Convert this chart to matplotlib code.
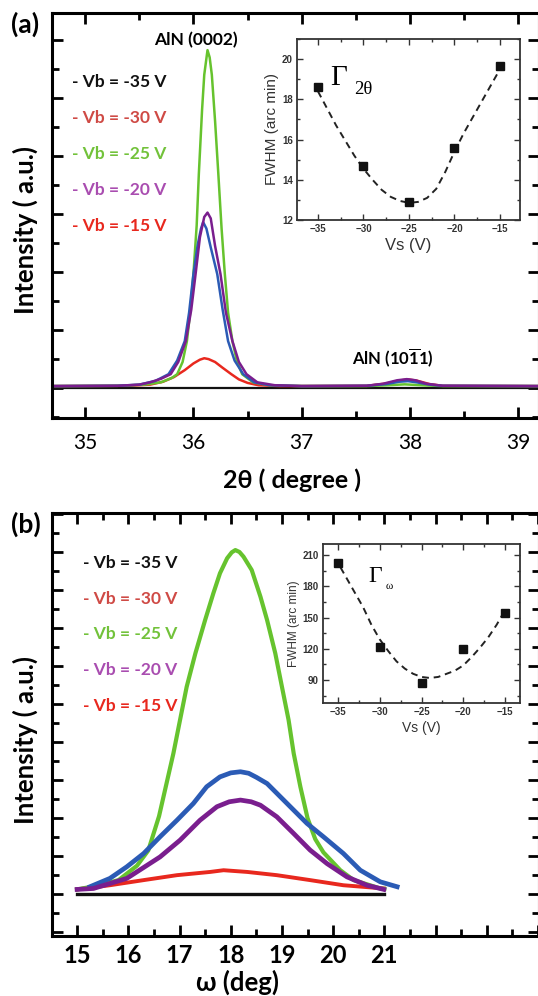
import matplotlib
matplotlib.use("Agg")
import matplotlib.pyplot as plt
from matplotlib.ticker import MultipleLocator

plt.rcParams['font.family'] = ['Lato', 'DejaVu Sans']
plt.rcParams['mathtext.fontset'] = 'custom'
plt.rcParams['mathtext.rm'] = 'Lato:bold'
plt.rcParams['mathtext.bf'] = 'Lato:bold'

# ---- panel (a): 2theta scans (intensity in arbitrary units) ----
black_a_x = [34.7, 39.2]
black_a_y = [0.0, 0.0]
green_a_x = [34.7, 35.3, 35.55, 35.70, 35.80, 35.85, 35.90, 35.94, 35.97, 36.00, 36.03, 36.05,
             36.08, 36.10, 36.13, 36.15, 36.17, 36.20, 36.23, 36.26, 36.29, 36.32, 36.36, 36.40,
             36.45, 36.55, 36.70, 37.0, 37.6, 37.8, 37.95, 38.1, 38.3, 39.2]
green_a_y = [0.07, 0.08, 0.12, 0.2, 0.35, 0.48, 0.9, 1.62, 2.6, 3.93, 5.6, 7.38,
             9.6, 10.8, 11.65, 11.4, 10.8, 9.2, 7.38, 5.5, 3.93, 2.6, 1.62, 0.95,
             0.48, 0.2, 0.1, 0.07, 0.07, 0.1, 0.13, 0.1, 0.07, 0.07]
purple_a_x = [34.7, 35.3, 35.5, 35.6, 35.7, 35.79, 35.86, 35.93, 35.98, 36.02, 36.06, 36.10,
              36.13, 36.16, 36.20, 36.25, 36.30, 36.36, 36.42, 36.49, 36.59, 36.75, 37.0,
              37.6, 37.75, 37.88, 37.97, 38.05, 38.15, 38.3, 39.2]
purple_a_y = [0.07, 0.08, 0.12, 0.2, 0.32, 0.48, 0.9, 1.62, 2.7, 3.93, 5.2, 5.9,
              6.05, 5.85, 4.9, 3.93, 2.6, 1.62, 0.9, 0.48, 0.2, 0.1, 0.07,
              0.08, 0.15, 0.27, 0.31, 0.27, 0.15, 0.08, 0.07]
blue_a_x = [34.7, 35.3, 35.5, 35.65, 35.77, 35.85, 35.92, 35.96, 36.0, 36.04, 36.07, 36.09,
            36.12, 36.16, 36.22, 36.27, 36.32, 36.38, 36.46, 36.56, 36.7, 37.0,
            37.6, 37.78, 37.9, 37.98, 38.06, 38.18, 38.3, 39.2]
blue_a_y = [0.07, 0.08, 0.12, 0.25, 0.48, 0.95, 1.62, 2.6, 3.93, 4.95, 5.5, 5.72,
            5.5, 4.85, 3.93, 2.7, 1.62, 0.95, 0.48, 0.2, 0.1, 0.07,
            0.08, 0.14, 0.22, 0.24, 0.2, 0.12, 0.08, 0.07]
red_a_x = [34.7, 35.4, 35.6, 35.72, 35.82, 35.92, 36.0, 36.06, 36.10, 36.14, 36.2, 36.27,
           36.35, 36.42, 36.5, 36.6, 36.8, 37.6, 37.78, 37.9, 37.98, 38.06, 38.18, 38.3, 39.2]
red_a_y = [0.07, 0.08, 0.12, 0.22, 0.38, 0.62, 0.85, 0.98, 1.03, 1.0, 0.9, 0.7,
           0.48, 0.3, 0.18, 0.1, 0.07, 0.08, 0.16, 0.26, 0.3, 0.26, 0.14, 0.08, 0.07]

# inset (a): FWHM of 2theta peak
vs_a = [-35, -30, -25, -20, -15]
fwhm_a = [18.6, 14.7, 12.9, 15.6, 19.65]
fit_a_x = [-35, -33, -31, -30, -29, -28, -27, -26, -25, -24, -23, -22, -21, -20, -19, -18, -17, -16, -15]
fit_a_y = [18.4, 16.7, 15.2, 14.55, 14.0, 13.5, 13.15, 12.95, 12.85, 12.9, 13.1, 13.55, 14.4, 15.4,
           16.3, 17.1, 17.9, 18.7, 19.5]

# ---- panel (b): omega rocking curves ----
black_b_x = [15.0, 21.0]
black_b_y = [0.0, 0.0]
green_b_x = [15.0, 15.4, 15.81, 16.17, 16.39, 16.6, 16.88, 17.01, 17.14, 17.31,
             17.50, 17.66, 17.79, 17.93, 18.02, 18.09, 18.17, 18.25, 18.41, 18.58, 18.71, 18.87,
             19.0, 19.13, 19.23, 19.36, 19.5, 19.65, 19.81, 20.14, 20.40, 20.92, 21.0]
green_b_y = [0.25, 0.45, 0.74, 1.5, 2.3, 4.1, 7.40, 9.16, 10.91, 12.67,
             14.42, 15.82, 16.88, 17.67, 17.98, 18.1, 18.0, 17.75, 17.05, 15.65, 14.42, 12.67,
             10.91, 9.16, 7.40, 5.65, 4.0, 2.9, 2.2, 1.26, 0.74, 0.3, 0.28]
blue_b_x = [15.25, 15.64, 15.97, 16.30, 16.62, 16.95, 17.27, 17.53, 17.79, 18.0, 18.19, 18.35,
            18.5, 18.71, 18.97, 19.23, 19.49, 19.81, 20.20, 20.53, 20.92, 21.25]
blue_b_y = [0.39, 0.83, 1.44, 2.14, 3.02, 3.89, 4.77, 5.65, 6.17, 6.38, 6.44, 6.36,
            6.15, 5.82, 5.12, 4.42, 3.72, 3.02, 2.14, 1.26, 0.65, 0.39]
purple_b_x = [15.0, 15.32, 15.97, 16.62, 17.01, 17.40, 17.73, 17.97, 18.19, 18.4, 18.58, 18.90,
              19.23, 19.55, 19.88, 20.27, 20.66, 20.99]
purple_b_y = [0.25, 0.3, 0.83, 1.96, 2.84, 3.89, 4.6, 4.86, 4.95, 4.86, 4.68, 4.07,
              3.19, 2.32, 1.61, 0.91, 0.47, 0.25]
red_b_x = [15.0, 15.64, 16.30, 16.95, 17.60, 17.86, 18.32, 18.90, 19.55, 20.20, 20.99]
red_b_y = [0.25, 0.47, 0.74, 1.0, 1.17, 1.26, 1.17, 1.0, 0.74, 0.47, 0.3]

# inset (b): FWHM of omega scan
vs_b = [-35, -30, -25, -20, -15]
fwhm_b = [202, 122, 87, 120, 154]
fit_b_x = [-34.7, -33, -32, -31, -30, -29, -28, -27, -26, -25, -24, -23, -22, -21, -20, -19, -18, -17, -16, -15]
fit_b_y = [198, 174, 160, 143, 129, 118, 108, 101, 96, 93, 92, 93, 96, 99, 104, 112, 121, 131, 143, 157]

legend_labels = ['- Vb = -35 V', '- Vb = -30 V', '- Vb = -25 V', '- Vb = -20 V', '- Vb = -15 V']
legend_colors = ['#111111', '#CF4A45', '#72C23A', '#A94DB0', '#E8281E']

c_black = '#111111'
c_green = '#66C32E'
c_purple = '#7A1E8E'
c_blue = '#2B5BB5'
c_red = '#E8281E'

W, H = 538, 996


def fx(x):
    return x / W


def fy(y):
    return 1 - y / H


def box(l, t, r, b):
    return [fx(l), fy(b), (r - l) / W, (b - t) / H]


def style_main(ax):
    for s in ax.spines.values():
        s.set_linewidth(2.2)
    ax.tick_params(which='both', direction='in', top=True, right=True, width=2, colors='black')
    ax.tick_params(which='major', length=8)
    ax.tick_params(which='minor', length=5)
    ax.tick_params(labelleft=False)


def style_inset(ax):
    for s in ax.spines.values():
        s.set_linewidth(1.3)
        s.set_color('#333333')
    ax.tick_params(which='both', direction='in', top=True, right=True, width=1, colors='#333333')
    ax.tick_params(which='major', length=4)
    ax.tick_params(which='minor', length=2.5)
    for lab in ax.get_xticklabels() + ax.get_yticklabels():
        lab.set_fontfamily('Liberation Sans')
        lab.set_fontweight('bold')


fig = plt.figure(figsize=(W / 100, H / 100), dpi=100)

# ------------------------ panel (a) ------------------------
ax = fig.add_axes(box(51.5, 13, 539, 418))
ax.plot(black_a_x, black_a_y, color=c_black, lw=1.6)
ax.plot(red_a_x, red_a_y, color=c_red, lw=1.8)
ax.plot(green_a_x, green_a_y, color=c_green, lw=1.8)
ax.plot(blue_a_x, blue_a_y, color=c_blue, lw=1.8)
ax.plot(purple_a_x, purple_a_y, color=c_purple, lw=1.8)
ax.set_xlim(34.69, 39.19)
ax.set_ylim(-1.03, 12.93)
ax.set_xticks([35, 36, 37, 38, 39])
ax.xaxis.set_minor_locator(MultipleLocator(0.5))
ax.yaxis.set_major_locator(MultipleLocator(2))
ax.yaxis.set_minor_locator(MultipleLocator(1))
style_main(ax)
ax.tick_params(axis='x', labelsize=15, pad=11)

for i, (t, c) in enumerate(zip(legend_labels, legend_colors)):
    fig.text(fx(72), fy(82 + 36 * i), t, color=c, fontsize=12.5, fontweight='bold',
             ha='left', va='center')
fig.text(fx(196), fy(40), 'AlN (0002)', fontsize=12.5, fontweight='bold', ha='center', va='center')
fig.text(fx(393), fy(358), r'AlN (10$\mathbf{\overline{1}}$1)', fontsize=12, fontweight='bold',
         ha='center', va='center')
fig.text(fx(292), fy(480), '2θ ( degree )', fontsize=18, fontweight='bold', ha='center', va='center')
fig.text(fx(25), fy(230), 'Intensity ( a.u.)', fontsize=18.5, fontweight='bold', rotation=90,
         ha='center', va='center')
fig.text(fx(25), fy(24), '(a)', fontsize=19, fontweight='bold', ha='center', va='center')

# inset (a)
ia = fig.add_axes(box(297, 39, 520, 220))
ia.plot(fit_a_x, fit_a_y, ls=(0, (3.5, 2.5)), color='#222222', lw=1.4)
ia.plot(vs_a, fwhm_a, 's', color='#111111', ms=5.5)
ia.set_xlim(-37.3, -12.8)
ia.set_ylim(12, 21)
ia.set_xticks([-35, -30, -25, -20, -15])
ia.xaxis.set_minor_locator(MultipleLocator(2.5))
ia.set_yticks([12, 14, 16, 18, 20])
ia.yaxis.set_minor_locator(MultipleLocator(1))
ia.tick_params(labelsize=7, pad=3)
style_inset(ia)
ia.set_xlabel('Vs (V)', fontfamily='Liberation Sans', fontsize=12, color='#333333', labelpad=3)
ia.set_ylabel('FWHM (arc min)', fontfamily='Liberation Sans', fontsize=11, color='#333333', labelpad=2)
fig.text(fx(330), fy(85), 'Γ', fontfamily='Liberation Serif', fontsize=21, ha='left', va='baseline')
fig.text(fx(354), fy(94), '2θ', fontfamily='Liberation Serif', fontsize=13.5, ha='left', va='baseline')

# ------------------------ panel (b) ------------------------
bx = fig.add_axes(box(51.5, 513, 539, 936))
bx.plot(black_b_x, black_b_y, color=c_black, lw=2.4)
bx.plot(red_b_x, red_b_y, color=c_red, lw=2.8)
bx.plot(green_b_x, green_b_y, color=c_green, lw=3.0)
bx.plot(blue_b_x, blue_b_y, color=c_blue, lw=3.4)
bx.plot(purple_b_x, purple_b_y, color=c_purple, lw=3.4)
bx.set_xlim(14.5, 24.02)
bx.set_ylim(-2.2, 20.05)
b_ticks = list(range(15, 25))
bx.set_xticks(b_ticks)
bx.set_xticklabels([str(t) if t <= 21 else '' for t in b_ticks])
bx.xaxis.set_minor_locator(MultipleLocator(0.5))
bx.yaxis.set_major_locator(MultipleLocator(2))
bx.yaxis.set_minor_locator(MultipleLocator(1))
style_main(bx)
bx.tick_params(axis='x', labelsize=17, pad=6)
for lab in bx.get_xticklabels():
    lab.set_fontweight('bold')

for i, (t, c) in enumerate(zip(legend_labels, legend_colors)):
    fig.text(fx(83), fy(563 + 35.7 * i), t, color=c, fontsize=12.5, fontweight='bold',
             ha='left', va='center')
fig.text(fx(238), fy(982), 'ω (deg)', fontsize=18.5, fontweight='bold', ha='center', va='center')
fig.text(fx(25), fy(740), 'Intensity ( a.u.)', fontsize=18.5, fontweight='bold', rotation=90,
         ha='center', va='center')
fig.text(fx(26), fy(524), '(b)', fontsize=19, fontweight='bold', ha='center', va='center')

# inset (b)
ib = fig.add_axes(box(323, 544, 520, 703))
ib.plot(fit_b_x, fit_b_y, ls=(0, (3.5, 2.5)), color='#222222', lw=1.4)
ib.plot(vs_b, fwhm_b, 's', color='#111111', ms=5.5)
ib.set_xlim(-36.8, -13.2)
ib.set_ylim(68, 220.5)
ib.set_xticks([-35, -30, -25, -20, -15])
ib.xaxis.set_minor_locator(MultipleLocator(2.5))
ib.set_yticks([90, 120, 150, 180, 210])
ib.yaxis.set_minor_locator(MultipleLocator(15))
ib.tick_params(labelsize=7, pad=3)
style_inset(ib)
ib.set_xlabel('Vs (V)', fontfamily='Liberation Sans', fontsize=10, color='#333333', labelpad=3)
ib.set_ylabel('FWHM (arc min)', fontfamily='Liberation Sans', fontsize=8.5, color='#333333', labelpad=2)
fig.text(fx(368), fy(582), 'Γ', fontfamily='Liberation Serif', fontsize=17, ha='left', va='baseline')
fig.text(fx(386), fy(589), 'ω', fontfamily='Liberation Serif', fontsize=8, ha='left', va='baseline')

fig.savefig('out.png', dpi=100)
